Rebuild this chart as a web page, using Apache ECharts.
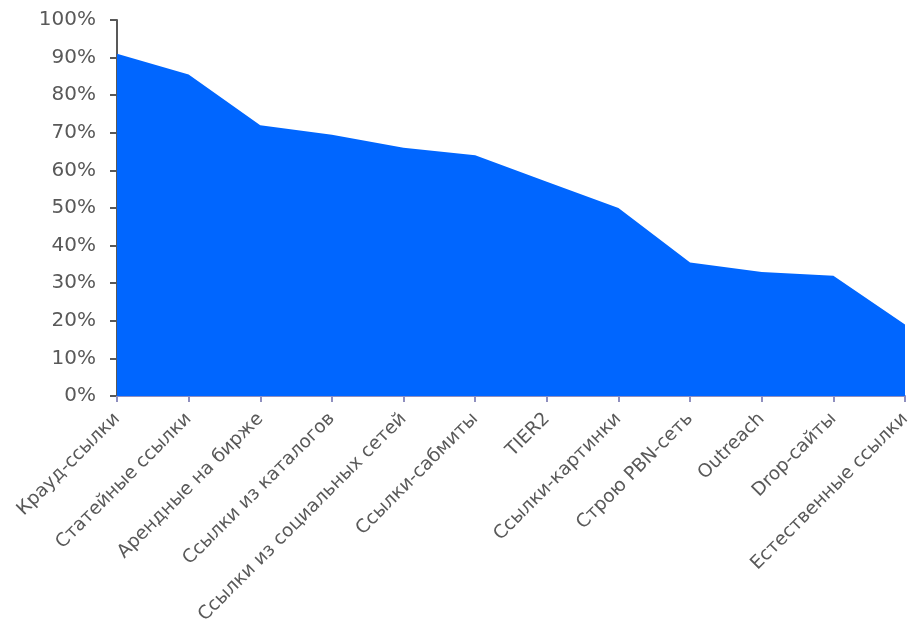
<!DOCTYPE html>
<html>
<head>
<meta charset="utf-8">
<script src="https://cdn.jsdelivr.net/npm/echarts@6/dist/echarts.min.js"></script>
<style>
  html, body { margin: 0; padding: 0; background: #ffffff; }
  #chart { width: 912px; height: 625px; }
</style>
</head>
<body>
<div id="chart"></div>
<script>
// Link types
const categories = [
  'Крауд-ссылки',
  'Статейные ссылки',
  'Арендные на бирже',
  'Ссылки из каталогов',
  'Ссылки из социальных сетей',
  'Ссылки-сабмиты',
  'TIER2',
  'Ссылки-картинки',
  'Строю PBN-сеть',
  'Outreach',
  'Drop-сайты',
  'Естественные ссылки'
];

// Share of respondents, %
const shares = [91, 85.5, 72, 69.5, 66, 64, 57, 50, 35.5, 33, 32, 19];

const chart = echarts.init(document.getElementById('chart'));
const font = 'DejaVu Sans';

chart.setOption({
  animation: false,
  grid: { left: 117, right: 7, top: 20, bottom: 229, containLabel: false, outerBoundsMode: 'none' },
  xAxis: {
    type: 'category',
    data: categories,
    boundaryGap: false,
    axisLine: { lineStyle: { color: '#8f8fbf', width: 2 } },
    axisTick: { alignWithLabel: true, length: 6, lineStyle: { color: '#8f8fbf', width: 2 } },
    axisLabel: {
      rotate: 45,
      interval: 0,
      margin: 20,
      color: '#595959',
      fontFamily: font,
      fontSize: 18.5
    }
  },
  yAxis: {
    type: 'value',
    min: 0,
    max: 100,
    interval: 10,
    splitLine: { show: false },
    axisLine: { show: true, lineStyle: { color: '#595959', width: 2 } },
    axisTick: { show: true, length: 7, lineStyle: { color: '#595959', width: 2 } },
    axisLabel: {
      margin: 21,
      color: '#595959',
      fontFamily: font,
      fontSize: 20,
      formatter: '{value}%'
    }
  },
  series: [{
    type: 'line',
    data: shares,
    symbol: 'none',
    lineStyle: { width: 0, color: '#0066ff' },
    areaStyle: { color: '#0066ff', opacity: 1 },
    itemStyle: { color: '#0066ff' }
  }]
});
</script>
</body>
</html>
